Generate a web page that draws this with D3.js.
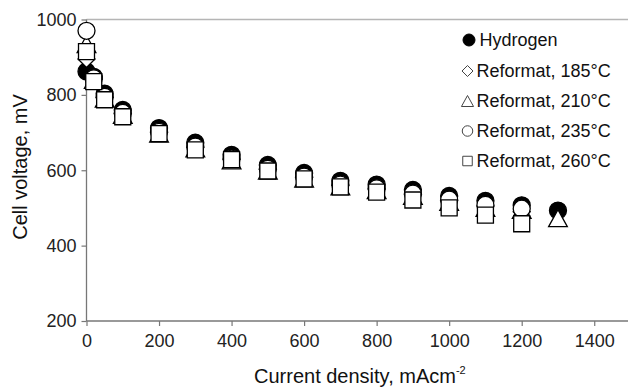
<!DOCTYPE html>
<html>
<head>
<meta charset="utf-8">
<script src="https://cdn.jsdelivr.net/npm/d3@7/dist/d3.min.js"></script>
<style>
  html, body { margin: 0; padding: 0; background: #fff; }
  svg { display: block; font-family: "Liberation Sans", Arial, sans-serif; }
</style>
</head>
<body>
<svg id="chart" width="628" height="389"></svg>
<script>
// Polarisation curves: current density (mA/cm²) vs cell voltage (mV)
const current   = [0, 20, 50, 100, 200, 300, 400, 500, 600, 700, 800, 900, 1000, 1100, 1200, 1300];
const hydrogen  = [862, 848, 803, 760, 712, 673, 641, 614, 593, 572, 562, 548, 532, 519, 507, 493];
const ref185    = [895, 842, 793, 750, 700, 661, 629, 602, 581, 560, 550, 535, 519, 505, 490];
const ref210    = [935, 840, 790, 747, 697, 658, 626, 599, 578, 557, 547, 532, 516, 500, 495, 473];
const ref235    = [970, 844, 795, 752, 702, 663, 631, 604, 583, 562, 552, 538, 522, 508, 498];
const ref260    = [915, 835, 787, 742, 697, 654, 628, 598, 577, 556, 542, 521, 500, 481, 458];

const seriesNames = ["Hydrogen", "Reformat, 185°C", "Reformat, 210°C", "Reformat, 235°C", "Reformat, 260°C"];
const seriesShapes = ["dot", "diamond", "triangle", "circle", "square"];
const seriesValues = [hydrogen, ref185, ref210, ref235, ref260];

const xTicks = [0, 200, 400, 600, 800, 1000, 1200, 1400];
const yTicks = [200, 400, 600, 800, 1000];

const svg = d3.select("#chart");
const x = d3.scaleLinear().domain([0, 1500]).range([86.5, 630.5]);
const y = d3.scaleLinear().domain([200, 1000]).range([321, 19.5]);

// frame line along the top
svg.append("line")
  .attr("x1", x(0)).attr("x2", 628)
  .attr("y1", y(1000)).attr("y2", y(1000))
  .attr("stroke", "#b5b5b5").attr("stroke-width", 1.5);

// axes
const xAxis = svg.append("g")
  .attr("transform", `translate(0,${y(200)})`)
  .call(d3.axisBottom(x).tickValues(xTicks).tickSize(5).tickPadding(8).tickFormat(d3.format("d")));
const yAxis = svg.append("g")
  .attr("transform", `translate(${x(0)},0)`)
  .call(d3.axisLeft(y).tickValues(yTicks).tickSize(5).tickPadding(5).tickFormat(d3.format("d")));

[xAxis, yAxis].forEach(g => {
  g.select(".domain").attr("stroke", "#777").attr("stroke-width", 1.3);
  g.selectAll(".tick line").attr("stroke", "#777").attr("stroke-width", 1.2);
  g.selectAll(".tick text").attr("fill", "#222").style("font-size", "18px").style("font-family", "Liberation Sans, Arial, sans-serif");
});
// extend x axis line to the right edge
xAxis.select(".domain").attr("d", `M${x(0)},0H630`);
yAxis.select(".domain").attr("d", `M0,${y(200)}V${y(1000)}`);

// marker path builders (centred on 0,0)
function shapePath(shape, s) {
  const h = s / 2;
  switch (shape) {
    case "square":   return `M${-h},${-h}H${h}V${h}H${-h}Z`;
    case "diamond":  return `M0,${-h}L${h},0L0,${h}L${-h},0Z`;
    case "triangle": return `M0,${-h}L${h * 1.1},${h}L${-h * 1.1},${h}Z`;
    default:         return `M${h},0A${h},${h} 0 1,1 ${-h},0A${h},${h} 0 1,1 ${h},0Z`;
  }
}

const marks = svg.append("g");
seriesValues.forEach((vals, si) => {
  const shape = seriesShapes[si];
  const filled = shape === "dot";
  const size = shape === "square" ? 16 : 17;
  marks.append("g").selectAll("path")
    .data(vals.map((v, i) => ({ c: current[i], v })))
    .join("path")
    .attr("transform", d => `translate(${x(d.c)},${y(d.v)})`)
    .attr("d", shapePath(shape, size))
    .attr("fill", filled ? "#000" : "#fff")
    .attr("stroke", "#000")
    .attr("stroke-width", 1.3);
});

// legend
const legendRows = [40, 71, 101, 131, 161];
const legend = svg.append("g");
seriesNames.forEach((name, i) => {
  const shape = seriesShapes[i];
  const filled = shape === "dot";
  const size = filled ? 12 : shape === "circle" ? 10.5 : shape === "square" ? 9.5 : 11;
  legend.append("path")
    .attr("transform", `translate(${filled ? 469 : 467.5},${legendRows[i]})`)
    .attr("d", shapePath(shape, size))
    .attr("fill", filled ? "#000" : "#fff")
    .attr("stroke", filled ? "#000" : "#444")
    .attr("stroke-width", 1);
  legend.append("text")
    .attr("x", filled ? 479.5 : 476.5)
    .attr("y", legendRows[i])
    .attr("dy", "0.35em")
    .attr("fill", "#111")
    .style("font-size", "18px")
    .text(name);
});

// axis titles
svg.append("text")
  .attr("transform", "translate(27,167) rotate(-90)")
  .attr("text-anchor", "middle")
  .attr("fill", "#111")
  .style("font-size", "20px")
  .text("Cell voltage, mV");

const xt = svg.append("text")
  .attr("x", 254)
  .attr("y", 383)
  .attr("fill", "#111")
  .style("font-size", "20px")
  .text("Current density, mAcm");
xt.append("tspan")
  .attr("dy", -9)
  .style("font-size", "11px")
  .text("-2");
</script>
</body>
</html>
